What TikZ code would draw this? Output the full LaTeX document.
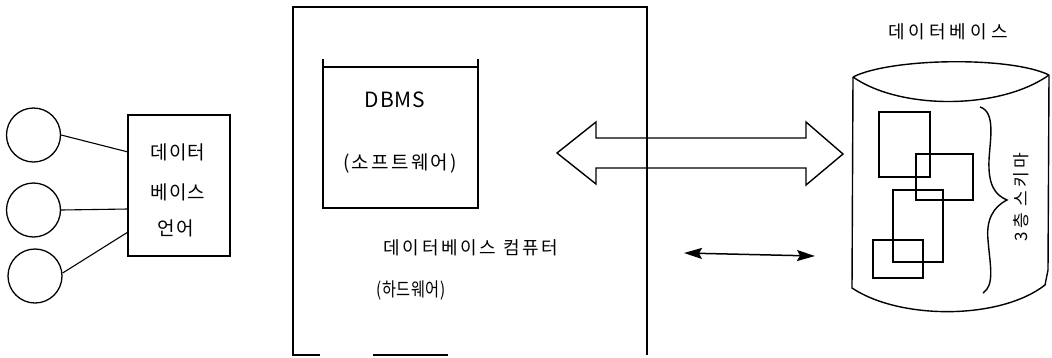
\documentclass[tikz,border=0pt]{standalone}
\usepackage{fontspec}
\setmainfont{Noto Sans CJK KR}
\usetikzlibrary{arrows.meta}
\tikzset{
  ln/.style={line width=1.4pt, line join=miter},
  thin ln/.style={line width=1.1pt},
  lbl/.style={inner sep=0pt, text=black},
  circ/.style={circle, draw, line width=1.3pt, minimum size=54pt, inner sep=0pt},
}
\begin{document}
\begin{tikzpicture}[x=1pt,y=-1pt]
\useasboundingbox (0,0) rectangle (1052,357);

% users (circles) and language box
\node[circ] (c1) at (33.5,135) {};
\node[circ] (c2) at (33.5,210) {};
\node[circ] (c3) at (35,276) {};
\node[draw, ln, minimum width=102pt, minimum height=141pt, inner sep=0pt] (lang) at (179,185.5) {};
\node[lbl, font=\fontsize{19}{19}\selectfont\addfontfeature{LetterSpace=6}] (t1) at (178,152) {데이터};
\node[lbl, font=\fontsize{19}{19}\selectfont\addfontfeature{LetterSpace=6}] (t2) at (178,192) {베이스};
\node[lbl, font=\fontsize{19}{19}\selectfont\addfontfeature{LetterSpace=6}] (t3) at (176,228) {언어};
\coordinate (e1) at (128,152);
\coordinate (e2) at (128,209);
\coordinate (e3) at (128,232);
\draw[thin ln] (c1.east) -- (e1);
\draw[thin ln] (c2.east) -- (e2);
\draw[thin ln] (c3.east) ++(0,-3) -- (e3);

% database computer (hardware) box
\draw[ln] (320,355) -- (293,355) -- (293,7) -- (647,7) -- (647,355);
\draw[ln] (373,355) -- (448,355);

% DBMS box
\draw[ln] (323,59) -- (323,208) -- (478,208) -- (478,59);
\draw[ln] (323,67) -- (478,67);
\node[lbl, font=\fontsize{21}{21}\selectfont\addfontfeature{LetterSpace=4}] (dbms) at (395,100) {DBMS};
\node[lbl, font=\fontsize{19}{19}\selectfont\addfontfeature{LetterSpace=12}] (sw) at (400,163) {(소프트웨어)};
\node[lbl, font=\fontsize{18}{18}\selectfont\addfontfeature{LetterSpace=15}] (dbc) at (471,248) {데이터베이스 컴퓨터};
\node[lbl, xscale=0.8, transform shape, font=\fontsize{19}{19}\selectfont\addfontfeature{LetterSpace=4}] (hw) at (411,290) {(하드웨어)};

% big hollow double arrow
\draw[ln] (557,153) -- (596,122) -- (596,138) -- (806,138) -- (806,122) -- (843,154)
  -- (806,185) -- (806,168) -- (596,168) -- (596,184) -- cycle;

% small double arrow
\coordinate (sa) at (684,253);
\coordinate (sb) at (815,256);
\draw[line width=1.5pt, {Stealth[length=18pt,width=11pt,inset=3pt]}-{Stealth[length=18pt,width=11pt,inset=3pt]}] (sa) -- (sb);

% database cylinder
\draw[ln] (853,77) .. controls (890,58) and (1010,56) .. (1049,75);
\draw[ln] (853,77) .. controls (900,110) and (1000,110) .. (1049,75);
\draw[ln] (853,77) -- (852,288) .. controls (900,320) and (1000,320) .. (1045,285) -- (1048,270) -- (1049,75);
\node[lbl, font=\fontsize{18}{18}\selectfont\addfontfeature{LetterSpace=22}] (dbl) at (948,32) {데이터베이스};

% schema rectangles
\draw[ln] (879,112) rectangle (930,177);
\draw[ln] (916,154) rectangle (973,200);
\draw[ln] (893,190) rectangle (943,262);
\draw[ln] (873,240) rectangle (923,278);

% brace
\draw[ln] (980,107) .. controls (996,112) and (990,140) .. (989,160)
  .. controls (988,185) and (995,195) .. (1007,200)
  .. controls (993,207) and (986,220) .. (988,240)
  .. controls (990,265) and (995,285) .. (983,293);
\node[lbl, rotate=90, font=\fontsize{17}{17}\selectfont\addfontfeature{LetterSpace=18}] (schema) at (1021,197) {3층 스키마};
\end{tikzpicture}
\end{document}
